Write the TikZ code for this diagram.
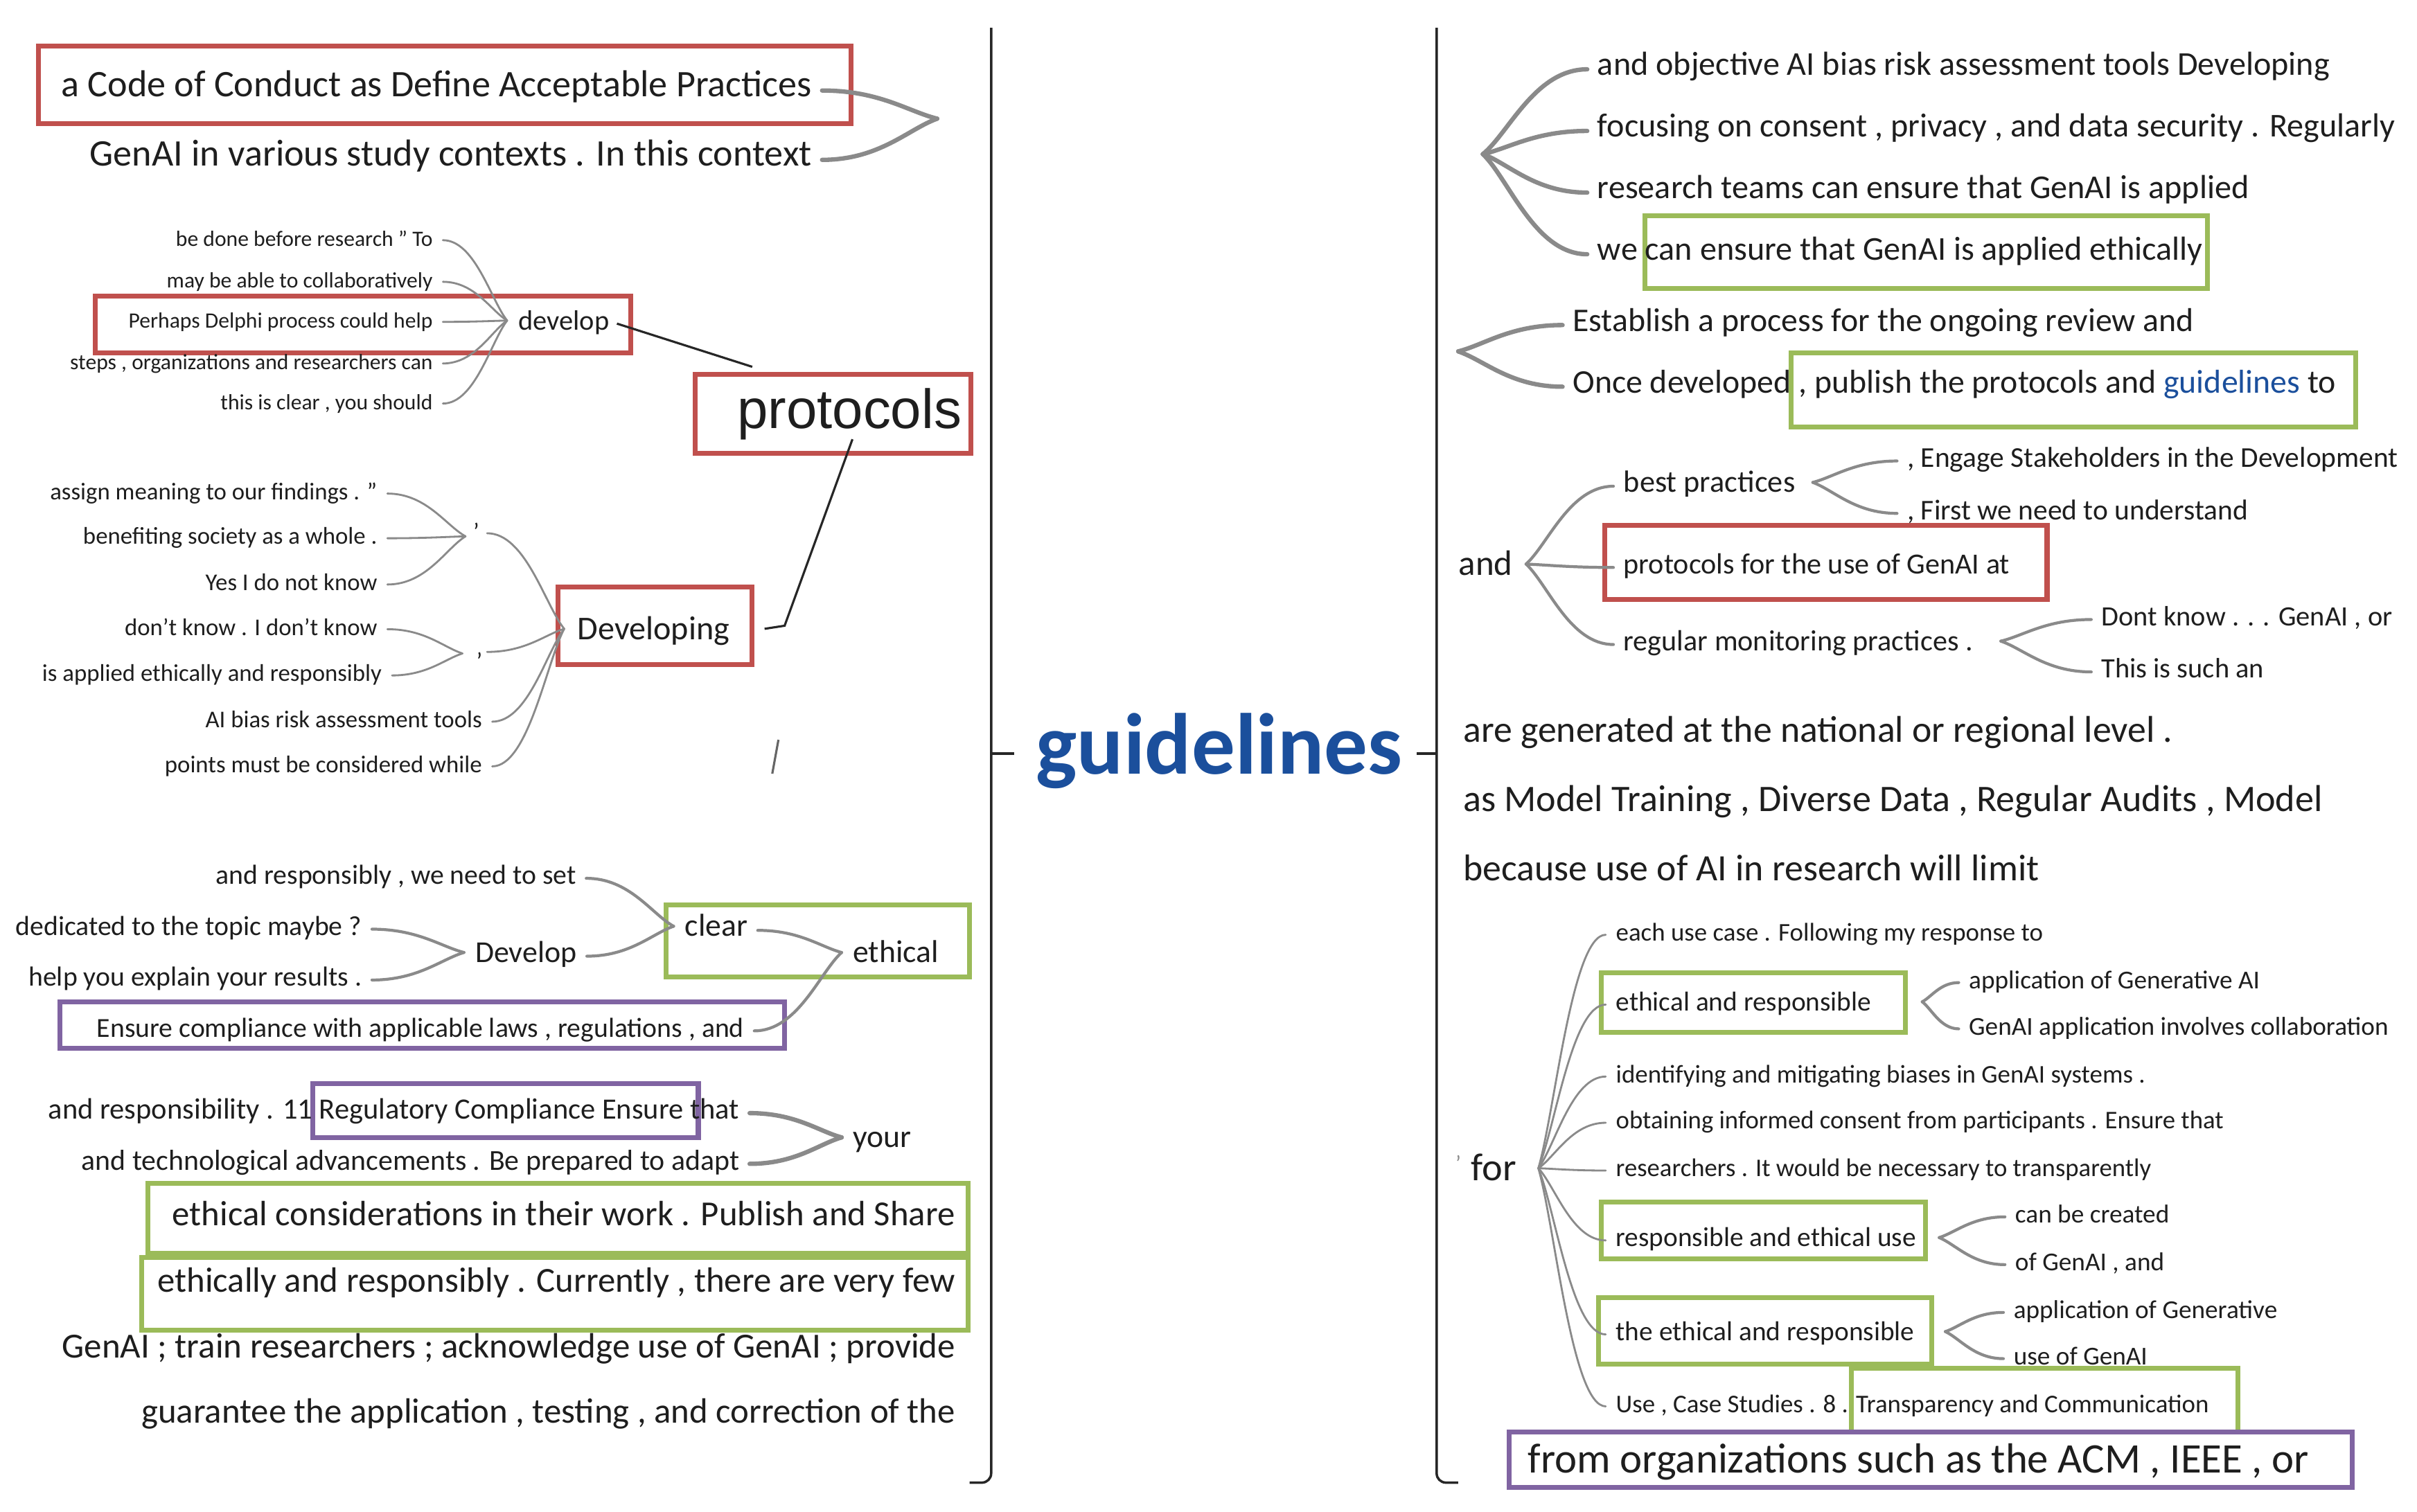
\documentclass[tikz,border=0pt]{standalone}
\usepackage{fontspec}
\setmainfont{Carlito}
\newfontfamily\arialf{Liberation Sans}
\usetikzlibrary{calc}
\definecolor{tcol}{HTML}{1E1E1E}
\definecolor{ccol}{HTML}{8A8A8A}
\definecolor{bred}{HTML}{C0504D}
\definecolor{bgreen}{HTML}{9BBB59}
\definecolor{bpurp}{HTML}{8064A2}
\definecolor{gblue}{HTML}{1B4F9C}
\newcommand\fsz[1]{\fontsize{#1}{#1}\selectfont}
\newcommand\cn[3][]{\draw[conn,#1] let \p1=(#2), \p2=(#3) in (\p1) .. controls (\x1*0.5+\x2*0.5, \y1) and (\x2*0.75+\x1*0.25, \y2*0.75+\y1*0.25) .. (\p2);}
\newcommand\cnL[3][]{\cn[#1]{[xshift=4pt]#2.east}{#3}}
\newcommand\cnR[3][]{\cn[#1]{[xshift=-4pt]#2.west}{#3}}
\begin{document}
\begin{tikzpicture}[x=0.022251cm,y=-0.022251cm,
 txt/.style={inner sep=0pt,text height=0.7em,text depth=0.2em,text=tcol},
 fs/.style={font=\fsz{#1},yshift={-(0.285*#1-2.03)*1pt}},
 wL/.style={txt,anchor=east}, wR/.style={txt,anchor=west},
 conn/.style={draw=ccol,line width=1pt,line cap=round},
 cwa/.style={line width=0.8pt}, cwb/.style={line width=1.2pt}, cwc/.style={line width=1.8pt},
 rbox/.style={draw=bred,line width=2pt}, gbox/.style={draw=bgreen,line width=2pt}, pbox/.style={draw=bpurp,line width=2pt},
 brk/.style={draw=black!85,line width=1pt},
 link/.style={draw=black!85,line width=0.9pt}]
\fill[white] (0,0) rectangle (1568,981);
\useasboundingbox (0,0) rectangle (1568,981);

% ---------- brackets and centre ----------
\draw[brk] (643,18) -- (643,956) to[out=-90,in=0] (637,962) -- (629,962);
\draw[brk] (643,489) -- (658,489);
\draw[brk] (932,18) -- (932,956) to[out=-90,in=180] (938,962) -- (946,962);
\draw[brk] (932,489) -- (919,489);
\node[txt,font=\bfseries\fsz{35.6},text=gblue,yshift=-8.9pt] (guide) at (791,484) {guidelines};

% ---------- boxes ----------
\draw[rbox] (25,30) rectangle (552,80);
\draw[rbox] (62,192) rectangle (409,229);
\draw[rbox] (451,243) rectangle (630,294);
\draw[rbox] (362,381) rectangle (488,431);
\draw[gbox] (432,587) rectangle (629,634);
\draw[pbox] (39,650) rectangle (509,680);
\draw[pbox] (203,703) rectangle (453,738);
\draw[gbox] (96,768) rectangle (628,813);
\draw[gbox] (92,816) rectangle (628,863);
\draw[gbox] (1067,140) rectangle (1432,187);
\draw[gbox] (1162,229) rectangle (1528,277);
\draw[rbox] (1041,341) rectangle (1328,389);
\draw[gbox] (1039,631) rectangle (1236,670);
\draw[gbox] (1039,780) rectangle (1249,817);
\draw[gbox] (1037,842) rectangle (1253,885);
\draw[gbox] (1201,888) rectangle (1452,929);
\draw[pbox] (979,929) rectangle (1526,965);

% ---------- left: top group ----------
\node[wL,fs=15.4] (code) at (527,55) {a Code of Conduct as Define Acceptable Practices};
\node[wL,fs=15.4] (gctx) at (527,100) {GenAI in various study contexts . In this context};
\coordinate (j1) at (608,77);
\cnL[cwc]{code}{j1}
\cnL[cwc]{gctx}{j1}

% ---------- left: develop ----------
\node[wL,fs=9] (d1) at (281,155) {be done before research " To};
\node[wL,fs=9] (d2) at (281,182) {may be able to collaboratively};
\node[wL,fs=9] (d3) at (281,208) {Perhaps Delphi process could help};
\node[wL,fs=9] (d4) at (281,235) {steps , organizations and researchers can};
\node[wL,fs=9] (d5) at (281,261) {this is clear , you should};
\node[wR,fs=11.5] (dev) at (336,208) {develop};
\coordinate (jd) at (329,208);
\foreach \nm in {d1,d2,d3,d4,d5}{\cnL[cwa]{\nm}{jd}}
\node[txt,font=\arialf\fsz{22.7},yshift=-5pt] (prot) at (551,266) {protocols};
\coordinate (pA) at (488,238);
\draw[link] ([xshift=3pt]dev.east) -- (pA);
\coordinate (pB) at (553,285);
\coordinate (pC) at (509,406);
\coordinate (pD) at (496,408);
\draw[link] (pB) -- (pC) -- (pD);
\coordinate (fr1) at (505,480);
\coordinate (fr2) at (501,502);
\draw[link,draw=black!60] (fr1) -- (fr2);

% ---------- left: Developing ----------
\node[txt,fs=13.7] (devg) at (424,408) {Developing};
\coordinate (jD) at (366,408);
\node[txt,fs=9.9] (q1) at (309,345) {'};
\node[txt,fs=9.9] (q2) at (311,429) {'};
\node[wL,fs=9.9] (a1) at (245,319) {assign meaning to our findings . ”};
\node[wL,fs=9.9] (a2) at (245,348) {benefiting society as a whole .};
\node[wL,fs=9.9] (a3) at (245,378) {Yes I do not know};
\node[wL,fs=9.9] (b1) at (245,407) {don't know . I don't know};
\node[wL,fs=9.9] (b2) at (248,437) {is applied ethically and responsibly};
\node[wL,fs=9.9] (c1) at (313,467) {AI bias risk assessment tools};
\node[wL,fs=9.9] (c2) at (313,496) {points must be considered while};
\coordinate (jq1) at (302,348);
\coordinate (jq2) at (300,424);
\coordinate (q1o) at (316,346);
\coordinate (q2o) at (316,423);
\foreach \nm in {a1,a2,a3}{\cnL[cwa]{\nm}{jq1}}
\foreach \nm in {b1,b2}{\cnL[cwa]{\nm}{jq2}}
\foreach \nm in {c1,c2}{\cnL[cwa]{\nm}{jD}}
\cn[cwa]{q1o}{jD}
\cn[cwa]{q2o}{jD}

% ---------- left: clear / ethical ----------
\node[wL,fs=11.3] (e1) at (374,568) {and responsibly , we need to set};
\node[wL,fs=11.3] (e2) at (235,601) {dedicated to the topic maybe ?};
\node[wL,fs=11.3] (e3) at (235,634) {help you explain your results .};
\node[wR,fs=12.5] (devp) at (308,618) {Develop};
\node[wR,fs=13] (clear) at (444,601) {clear};
\node[wR,fs=13] (ethi) at (553,618) {ethical};
\node[wL,fs=11.3] (ens) at (483,667) {Ensure compliance with applicable laws , regulations , and};
\coordinate (jDv) at (301,618);
\coordinate (jcl) at (437,601);
\coordinate (jet) at (546,618);
\cnL[cwb]{e2}{jDv}
\cnL[cwb]{e3}{jDv}
\cnL[cwb]{e1}{jcl}
\cnL[cwb]{devp}{jcl}
\cnL[cwb]{clear}{jet}
\cnL[cwb]{ens}{jet}

% ---------- left: your ----------
\node[wL,fs=12.1] (y1) at (480,720) {and responsibility . 11 Regulatory Compliance Ensure that};
\node[wL,fs=11.9] (y2) at (480,753) {and technological advancements . Be prepared to adapt};
\node[wR,fs=13] (your) at (553,738) {your};
\coordinate (jyr) at (546,738);
\cnL[cwc]{y1}{jyr}
\cnL[cwc]{y2}{jyr}

% ---------- left: large lines ----------
\node[wL,fs=14.45] (g1) at (620,788) {ethical considerations in their work . Publish and Share};
\node[wL,fs=14.45] (g2) at (620,831) {ethically and responsibly . Currently , there are very few};
\node[wL,fs=14.5] (g3) at (620,874) {GenAI ; train researchers ; acknowledge use of GenAI ; provide};
\node[wL,fs=14.45] (g4) at (620,916) {guarantee the application , testing , and correction of the};

% ---------- right: top group ----------
\node[wR,fs=13.7] (r1) at (1036,42) {and objective AI bias risk assessment tools Developing};
\node[wR,fs=13.7] (r2) at (1036,82) {focusing on consent , privacy , and data security . Regularly};
\node[wR,fs=13.7] (r3) at (1036,122) {research teams can ensure that GenAI is applied};
\node[wR,fs=13.7] (r4) at (1036,162) {we can ensure that GenAI is applied ethically};
\coordinate (jT) at (962,100);
\foreach \nm in {r1,r2,r3,r4}{\cnR[cwc]{\nm}{jT}}

\node[wR,fs=13.6] (s1) at (1020,208) {Establish a process for the ongoing review and};
\node[wR,fs=13.6] (s2) at (1020,248) {Once developed , publish the protocols and \textcolor{gblue}{guidelines} to};
\coordinate (jE) at (946,228);
\cnR[cwc]{s1}{jE}
\cnR[cwc]{s2}{jE}

% ---------- right: and ----------
\node[wR,fs=14.5] (and) at (946,366) {and};
\coordinate (jand) at (990,366);
\node[wR,fs=12.6] (bp) at (1053,313) {best practices};
\node[wR,fs=12] (pf) at (1053,366) {protocols for the use of GenAI at};
\node[wR,fs=12] (rm) at (1053,416) {regular monitoring practices .};
\foreach \nm in {bp,pf,rm}{\cnR[cwb]{\nm}{jand}}
\node[wR,fs=11.8] (bp1) at (1237,297) {, Engage Stakeholders in the Development};
\node[wR,fs=11.8] (bp2) at (1237,331) {, First we need to understand};
\coordinate (jbp) at (1176,313);
\cnR[cwb]{bp1}{jbp}
\cnR[cwb]{bp2}{jbp}
\node[wR,fs=11.5] (rm1) at (1363,400) {Dont know . . . GenAI , or};
\node[wR,fs=11.5] (rm2) at (1363,434) {This is such an};
\coordinate (jrm) at (1298,416);
\cnR[cwb]{rm1}{jrm}
\cnR[cwb]{rm2}{jrm}

% ---------- right: large lines ----------
\node[wR,fs=15.3] (h1) at (949,474) {are generated at the national or regional level .};
\node[wR,fs=15.4] (h2) at (949,519) {as Model Training , Diverse Data , Regular Audits , Model};
\node[wR,fs=15.3] (h3) at (949,564) {because use of AI in research will limit};

% ---------- right: for ----------
\node[txt,fs=9,text=ccol] (fq) at (946,755) {'};
\node[wR,fs=16] (for) at (954,758) {for};
\coordinate (jfor) at (998,758);
\node[wR,fs=10.5] (f1) at (1048,605) {each use case . Following my response to};
\node[wR,fs=11.2] (f2) at (1048,650) {ethical and responsible};
\node[wR,fs=10.5] (f3) at (1048,697) {identifying and mitigating biases in GenAI systems .};
\node[wR,fs=10.45] (f4) at (1048,727) {obtaining informed consent from participants . Ensure that};
\node[wR,fs=10.45] (f5) at (1048,758) {researchers . It would be necessary to transparently};
\node[wR,fs=11.2] (f6) at (1048,803) {responsible and ethical use};
\node[wR,fs=11.2] (f7) at (1048,864) {the ethical and responsible};
\node[wR,fs=10.5] (f8) at (1048,911) {Use , Case Studies . 8 . Transparency and Communication};
\foreach \nm in {f1,f2,f3,f4,f5,f6,f7,f8}{\cnR[cwa]{\nm}{jfor}}
\node[wR,fs=10.6] (f21) at (1277,636) {application of Generative AI};
\node[wR,fs=10.6] (f22) at (1277,666) {GenAI application involves collaboration};
\coordinate (jf2) at (1247,650);
\cnR[cwb]{f21}{jf2}
\cnR[cwb]{f22}{jf2}
\node[wR,fs=10.6] (f61) at (1307,788) {can be created};
\node[wR,fs=10.6] (f62) at (1307,819) {of GenAI , and};
\coordinate (jf6) at (1258,803);
\cnR[cwb]{f61}{jf6}
\cnR[cwb]{f62}{jf6}
\node[wR,fs=10.6] (f71) at (1306,850) {application of Generative};
\node[wR,fs=10.6] (f72) at (1306,880) {use of GenAI};
\coordinate (jf7) at (1262,864);
\cnR[cwb]{f71}{jf7}
\cnR[cwb]{f72}{jf7}
\node[wR,fs=17.3] (org) at (991,947) {from organizations such as the ACM , IEEE , or};
\end{tikzpicture}
\end{document}
